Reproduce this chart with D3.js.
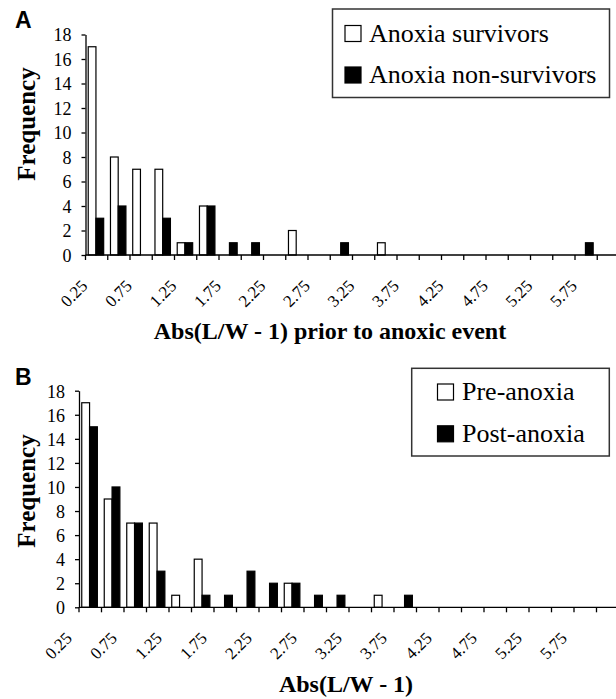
<!DOCTYPE html>
<html>
<head>
<meta charset="utf-8">
<script src="https://cdn.jsdelivr.net/npm/d3@7"></script>
<style>
  html, body { margin: 0; padding: 0; background: #fff; }
  svg { display: block; }
  text { font-family: "Liberation Serif", "Times New Roman", serif; }
</style>
</head>
<body>
<svg id="chart" width="616" height="699"></svg>
<script>
// ---------------- DATA ----------------
const categories = [0.25, 0.5, 0.75, 1.0, 1.25, 1.5, 1.75, 2.0, 2.25, 2.5, 2.75, 3.0,
                    3.25, 3.5, 3.75, 4.0, 4.25, 4.5, 4.75, 5.0, 5.25, 5.5, 5.75, 6.0];
const tickLabels = ["0.25", "0.75", "1.25", "1.75", "2.25", "2.75", "3.25", "3.75",
                    "4.25", "4.75", "5.25", "5.75"];
const yTicks = [0, 2, 4, 6, 8, 10, 12, 14, 16, 18];

// Panel A
const survivors    = [17, 8, 7, 7, 1, 4, 0, 0, 0, 2, 0, 0, 0, 1, 0, 0, 0, 0, 0, 0, 0, 0, 0, 0];
const nonSurvivors = [ 3, 4, 0, 3, 1, 4, 1, 1, 0, 0, 0, 1, 0, 0, 0, 0, 0, 0, 0, 0, 0, 0, 1, 0];
// Panel B
const preAnoxia    = [17, 9, 7, 7, 1, 4, 0, 0, 0, 2, 0, 0, 0, 1, 0, 0, 0, 0, 0, 0, 0, 0, 0, 0];
const postAnoxia   = [15,10, 7, 3, 0, 1, 1, 3, 2, 2, 1, 1, 0, 0, 1, 0, 0, 0, 0, 0, 0, 0, 0, 0];

const legendA = ["Anoxia survivors", "Anoxia non-survivors"];
const legendB = ["Pre-anoxia", "Post-anoxia"];
const titleA = "Abs(L/W - 1) prior to anoxic event";
const titleB = "Abs(L/W - 1)";
const yTitle = "Frequency";

// ---------------- DRAW ----------------
const svg = d3.select("#chart");
svg.append("rect").attr("width", 616).attr("height", 699).attr("fill", "#fff");

const SERIF = "Liberation Serif, Times New Roman, serif";
const SANS = "Liberation Sans, Arial, sans-serif";

function drawPanel(cfg) {
  const g = svg.append("g");
  const x = d3.scaleBand().domain(categories).range([cfg.x0, cfg.x0 + cfg.step * categories.length]).padding(0);
  const series = ["a", "b"];
  const x1 = d3.scaleBand().domain(series).range([0, x.bandwidth()]).paddingInner(0).paddingOuter(0.44).align(0.4);
  const y = d3.scaleLinear().domain([0, 18]).range([cfg.yBottom, cfg.yTop]);

  // bars
  const rows = categories.map((c, i) => ({ c, a: cfg.a[i], b: cfg.b[i] }));
  series.forEach(s => {
    g.selectAll(null)
      .data(rows.filter(d => d[s] > 0))
      .join("rect")
      .attr("x", d => x(d.c) + x1(s))
      .attr("y", d => y(d[s]))
      .attr("width", x1.bandwidth())
      .attr("height", d => y(0) - y(d[s]))
      .attr("fill", s === "a" ? "#fff" : "#000")
      .attr("stroke", "#000")
      .attr("stroke-width", 1.2);
  });

  // y axis
  const yAxis = d3.axisLeft(y).tickValues(yTicks).tickSize(4).tickSizeOuter(0).tickFormat(d3.format("d"));
  const ya = g.append("g").attr("transform", `translate(${cfg.x0},0)`).call(yAxis);
  ya.attr("font-family", SERIF).attr("font-size", 18);
  ya.select(".domain").attr("stroke", "#000").attr("stroke-width", 1.3);
  ya.selectAll(".tick line").attr("stroke", "#000").attr("stroke-width", 1.3);
  ya.selectAll(".tick text")
    .attr("x", -14)
    .attr("dy", "0.35em")
    .style("font-family", SERIF).style("font-size", "18px").attr("fill", "#000");

  // x axis line and ticks at category boundaries
  const bounds = categories.map(c => x(c)).concat([x.range()[1]]);
  g.append("line")
    .attr("x1", cfg.x0).attr("x2", x.range()[1])
    .attr("y1", cfg.yBottom).attr("y2", cfg.yBottom)
    .attr("stroke", "#000").attr("stroke-width", 1.3);
  g.selectAll(null).data(bounds).join("line")
    .attr("x1", d => d).attr("x2", d => d)
    .attr("y1", cfg.yBottom).attr("y2", cfg.yBottom + 5)
    .attr("stroke", "#000").attr("stroke-width", 1.3);

  // x tick labels (every other category)
  g.selectAll(null).data(tickLabels).join("text")
    .attr("transform", (d, i) => `translate(${x(categories[2 * i]) + cfg.labelDx},${cfg.yBottom + cfg.labelDy}) rotate(-45)`)
    .attr("text-anchor", "end")
    .style("font-family", SERIF).style("font-size", "17px").attr("fill", "#000")
    .text(d => d);

  // y title
  g.append("text")
    .attr("transform", `translate(${cfg.yTitleX},${cfg.yTitleY}) rotate(-90)`)
    .attr("text-anchor", "middle")
    .style("font-family", SERIF).attr("font-weight", "bold").attr("font-size", 25)
    .text(yTitle);

  // x title
  g.append("text")
    .attr("x", cfg.xTitleX).attr("y", cfg.xTitleY)
    .attr("text-anchor", "middle")
    .style("font-family", SERIF).attr("font-weight", "bold").attr("font-size", 24)
    .text(cfg.xTitle);

  // panel letter
  g.append("text")
    .attr("x", 15).attr("y", cfg.letterY)
    .style("font-family", SANS).attr("font-weight", "bold").attr("font-size", 23)
    .text(cfg.letter);

  // legend
  const L = cfg.legend;
  g.append("rect")
    .attr("x", L.x).attr("y", L.y).attr("width", L.w).attr("height", L.h)
    .attr("fill", "#fff").attr("stroke", "#333").attr("stroke-width", 1.5);
  cfg.legendLabels.forEach((lab, i) => {
    g.append("rect")
      .attr("x", L.sx).attr("y", L.sy + i * L.gap)
      .attr("width", 16).attr("height", 16)
      .attr("fill", i === 0 ? "#fff" : "#000")
      .attr("stroke", "#000").attr("stroke-width", 1.2);
    g.append("text")
      .attr("x", L.tx).attr("y", L.ty + i * L.gap)
      .style("font-family", SERIF).attr("font-size", 26).attr("fill", "#000")
      .text(lab);
  });
}

drawPanel({
  a: survivors, b: nonSurvivors,
  x0: 85.5, step: 22.25, yBottom: 255, yTop: 34.5,
  labelDx: 3, labelDy: 32,
  yTitleX: 35, yTitleY: 124,
  xTitle: titleA, xTitleX: 330, xTitleY: 339,
  letter: "A", letterY: 28,
  legendLabels: legendA,
  legend: { x: 332.5, y: 9, w: 277, h: 88.5, sx: 345, sy: 25.5, tx: 369, ty: 41.5, gap: 41.5 }
});

drawPanel({
  a: preAnoxia, b: postAnoxia,
  x0: 79, step: 22.5, yBottom: 607.3, yTop: 390.7,
  labelDx: -6, labelDy: 32,
  yTitleX: 35, yTitleY: 491,
  xTitle: titleB, xTitleX: 346, xTitleY: 692,
  letter: "B", letterY: 385,
  legendLabels: legendB,
  legend: { x: 411.7, y: 368.3, w: 197.6, h: 87.7, sx: 437.5, sy: 384, tx: 462, ty: 400, gap: 41.8 }
});
</script>
</body>
</html>
